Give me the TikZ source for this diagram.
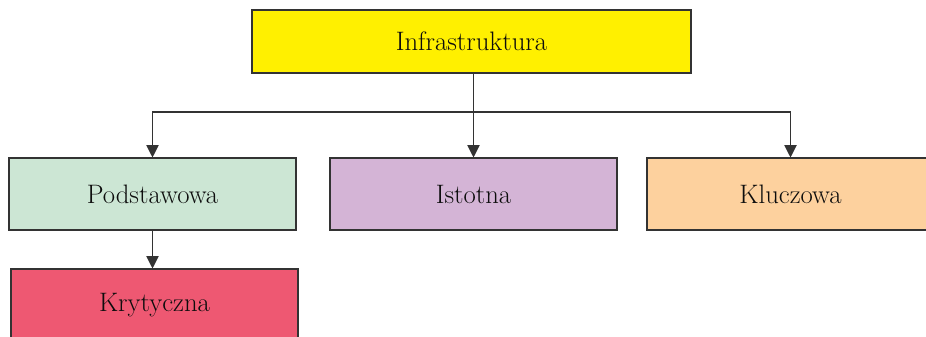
\documentclass[tikz,border=0pt]{standalone}
\usetikzlibrary{arrows.meta}
\definecolor{infrayellow}{RGB}{255,240,0}
\definecolor{basegreen}{RGB}{204,230,212}
\definecolor{keylilac}{RGB}{212,180,214}
\definecolor{corepeach}{RGB}{253,209,158}
\definecolor{critred}{RGB}{238,88,114}
\begin{document}
\begin{tikzpicture}[font=\fontsize{15.2}{18}\selectfont,
box/.style={draw=black!80,line width=0.6pt,minimum width=5.74cm,minimum height=1.44cm,inner sep=0pt,text=black!95},
link/.style={draw=black!80,line width=0.6pt,-{Triangle[width=7pt,length=7pt]}}]
\useasboundingbox(0,0)rectangle(18.52,6.72);
\node[box,fill=infrayellow,minimum width=8.78cm,minimum height=1.26cm](infra)at(9.43,5.89){Infrastruktura};
\node[box,fill=basegreen](podst)at(3.05,2.84){Podstawowa};
\node[box,fill=keylilac](istot)at(9.47,2.84){Istotna};
\node[box,fill=corepeach](klucz)at(15.81,2.84){Kluczowa};
\node[box,fill=critred](kryt)at(3.09,0.62){Krytyczna};
% trunk leaves the top box straight above the middle box
\coordinate(split)at(istot.north|-0,4.48);
\draw[draw=black!80,line width=0.6pt](istot.north|-infra.south)--(split);
\draw[link](split)-|(podst.north);
\draw[link](split)--(istot.north);
\draw[link](split)-|(klucz.north);
\draw[link](podst.south)--(podst.south|-kryt.north);
\end{tikzpicture}
\end{document}
